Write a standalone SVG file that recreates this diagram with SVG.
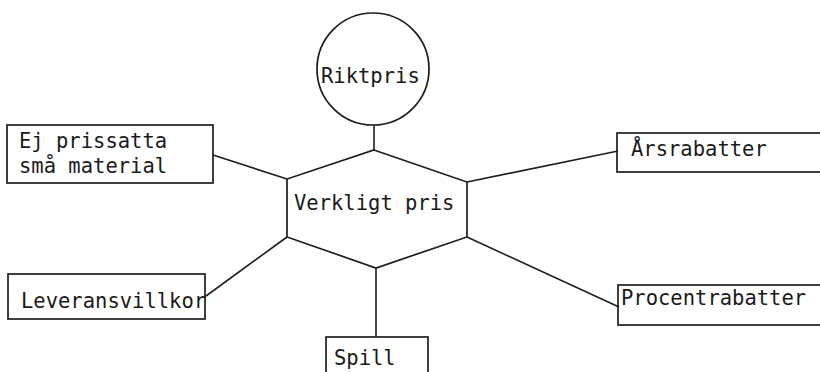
<svg xmlns="http://www.w3.org/2000/svg" width="820" height="372" viewBox="0 0 820 372">
  <style>
    .shape { fill: none; stroke: #1e1e1e; stroke-width: 1.7; }
    .edge { fill: none; stroke: #1e1e1e; stroke-width: 1.6; }
    .label { font-family: "DejaVu Sans Mono", "Liberation Mono", monospace; font-size: 20.5px; fill: #1a1a1a; }
  </style>
  <rect width="820" height="372" fill="#ffffff"/>

  <g id="connectors">
    <line class="edge" x1="374" y1="125" x2="374" y2="150"/>
    <line class="edge" x1="213" y1="155" x2="287" y2="179"/>
    <line class="edge" x1="467" y1="182" x2="618" y2="151"/>
    <line class="edge" x1="287" y1="237" x2="206" y2="296"/>
    <line class="edge" x1="467" y1="237" x2="619" y2="307"/>
    <line class="edge" x1="376" y1="268" x2="376" y2="337"/>
  </g>

  <g id="riktpris">
    <circle class="shape" cx="373" cy="69" r="56"/>
    <text class="label" x="321" y="83">Riktpris</text>
  </g>

  <g id="verkligt-pris">
    <polygon class="shape" points="374,150 467,182 467,237 376,268 287,237 287,179"/>
    <text class="label" x="294" y="210">Verkligt pris</text>
  </g>

  <g id="ej-prissatta">
    <rect class="shape" x="7" y="125" width="206" height="58"/>
    <text class="label" x="19" y="148">Ej prissatta</text>
    <text class="label" x="19" y="173">små material</text>
  </g>

  <g id="leveransvillkor">
    <rect class="shape" x="8" y="274" width="197" height="45"/>
    <text class="label" x="21" y="308">Leveransvillkor</text>
  </g>

  <g id="arsrabatter">
    <rect class="shape" x="617" y="133" width="210" height="39"/>
    <text class="label" x="631" y="156">Årsrabatter</text>
  </g>

  <g id="procentrabatter">
    <rect class="shape" x="618" y="285" width="210" height="40"/>
    <text class="label" x="621" y="305">Procentrabatter</text>
  </g>

  <g id="spill">
    <rect class="shape" x="326" y="337" width="102" height="50"/>
    <text class="label" x="334" y="365">Spill</text>
  </g>
</svg>
